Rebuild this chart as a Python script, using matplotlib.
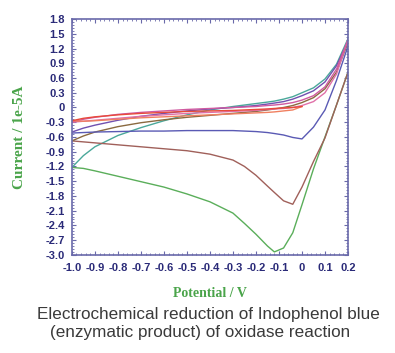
import matplotlib.pyplot as plt
from matplotlib.ticker import MultipleLocator, FuncFormatter

# potential grid (V) shared by the branches
potential = [-1.0, -0.95, -0.9, -0.8, -0.7, -0.6, -0.5, -0.4, -0.3, -0.25,
             -0.2, -0.15, -0.12, -0.08, -0.04, 0.0, 0.05, 0.1, 0.15, 0.2]

# currents (1e-5 A), cathodic (lower) and return (upper) branches
green_lower = [-1.22, -1.24, -1.29, -1.40, -1.51, -1.62, -1.76, -1.92, -2.15, -2.36,
               -2.58, -2.82, -2.94, -2.86, -2.55, -1.98, -1.25, -0.60, 0.05, 0.72]
green_upper = [-1.22, -0.98, -0.80, -0.57, -0.41, -0.27, -0.15, -0.05, 0.02, 0.05,
               0.08, 0.11, 0.13, 0.17, 0.22, 0.30, 0.40, 0.58, 0.88, 1.40]

brown_lower = [-0.68, -0.70, -0.72, -0.76, -0.80, -0.84, -0.88, -0.95, -1.07, -1.20,
               -1.38, -1.60, -1.73, -1.90, -1.97, -1.62, -1.10, -0.62, 0.05, 0.72]
brown_upper = [-0.68, -0.58, -0.50, -0.39, -0.31, -0.25, -0.20, -0.16, -0.12, -0.10,
               -0.08, -0.05, -0.03, 0.0, 0.04, 0.10, 0.20, 0.38, 0.72, 1.32]

blue_lower = [-0.52, -0.51, -0.50, -0.49, -0.48, -0.48, -0.47, -0.47, -0.47, -0.48,
              -0.49, -0.51, -0.53, -0.56, -0.61, -0.64, -0.40, -0.05, 0.55, 1.25]
blue_upper = [-0.50, -0.42, -0.36, -0.26, -0.18, -0.12, -0.07, -0.03, 0.0, 0.02,
              0.04, 0.07, 0.09, 0.12, 0.17, 0.24, 0.34, 0.52, 0.85, 1.35]

pink_lower = [-0.30, -0.28, -0.26, -0.22, -0.18, -0.15, -0.12, -0.10, -0.08, -0.07,
              -0.06, -0.04, -0.03, -0.02, 0.0, 0.04, 0.12, 0.30, 0.68, 1.38]
pink_upper = [-0.30, -0.24, -0.20, -0.14, -0.10, -0.07, -0.04, -0.02, 0.0, 0.01,
              0.02, 0.04, 0.05, 0.07, 0.10, 0.15, 0.24, 0.42, 0.78, 1.38]

# short scan, -1.0 .. 0.0 V
red_lower = [-0.27, -0.28, -0.27, -0.24, -0.21, -0.19, -0.17, -0.15, -0.13, -0.12,
             -0.11, -0.10, -0.09, -0.07, -0.05, 0.02]
red_upper = [-0.27, -0.22, -0.19, -0.15, -0.12, -0.10, -0.08, -0.07, -0.06, -0.05,
             -0.04, -0.03, -0.02, -0.01, 0.0, 0.02]

fig = plt.figure(figsize=(3.95, 3.53), dpi=100)
ax = fig.add_axes([0.182, 0.278, 0.699, 0.668])

ax.plot(potential, green_lower, color='#5aae5a', lw=1.0)
ax.plot(potential, green_upper, color='#4aa89a', lw=1.0)
ax.plot(potential, brown_lower, color='#a0605a', lw=1.0)
ax.plot(potential, brown_upper, color='#8a6a40', lw=1.0)
ax.plot(potential, blue_lower, color='#5a5ab4', lw=1.0)
ax.plot(potential, blue_upper, color='#7050b0', lw=1.0)
ax.plot(potential, pink_lower, color='#e070a8', lw=1.0)
ax.plot(potential, pink_upper, color='#d05aa0', lw=1.0)
n = len(red_lower)
ax.plot(potential[:n], red_lower, color='#f08060', lw=1.0)
ax.plot(potential[:n], red_upper, color='#e84a3a', lw=1.0)

ax.set_xlim(-1.0, 0.2)
ax.set_ylim(-3.0, 1.8)
ax.xaxis.set_major_locator(MultipleLocator(0.1))
ax.xaxis.set_minor_locator(MultipleLocator(0.02))
ax.yaxis.set_major_locator(MultipleLocator(0.3))
ax.yaxis.set_minor_locator(MultipleLocator(0.06))

def fmt_tick(v, pos):
    if abs(v) < 1e-9:
        return '0'
    return f'{v:.1f}'

ax.xaxis.set_major_formatter(FuncFormatter(fmt_tick))
ax.yaxis.set_major_formatter(FuncFormatter(fmt_tick))

spine_col = '#6a6aaa'
for s in ax.spines.values():
    s.set_color(spine_col)
    s.set_linewidth(1.2)
ax.tick_params(which='both', direction='in', top=True, right=True,
               color=spine_col, labelcolor='#2a2a78')
ax.tick_params(which='major', length=3, width=0.8)
ax.tick_params(which='minor', length=1.6, width=0.6)
ax.tick_params(axis='x', which='major', pad=6)
ax.tick_params(axis='y', which='major', pad=5)
for lab in ax.get_xticklabels() + ax.get_yticklabels():
    lab.set_fontsize(8)
    lab.set_fontweight('bold')
    lab.set_family('Liberation Sans')

ax.set_ylabel('Current / 1e-5A', color='#4aa44a', fontsize=11,
              fontweight='bold', family='Liberation Serif', labelpad=14)
ax.set_xlabel('Potential / V', color='#4aa44a', fontsize=10,
              fontweight='bold', family='Liberation Serif', labelpad=10)

fig.text(0.528, 0.108, 'Electrochemical reduction of Indophenol blue',
         ha='center', va='center', fontsize=12.3, color='#3a3a3a',
         family='Liberation Sans')
fig.text(0.507, 0.057, '(enzymatic product) of oxidase reaction',
         ha='center', va='center', fontsize=12.3, color='#3a3a3a',
         family='Liberation Sans')

fig.savefig('out.png', dpi=100, facecolor='white')
